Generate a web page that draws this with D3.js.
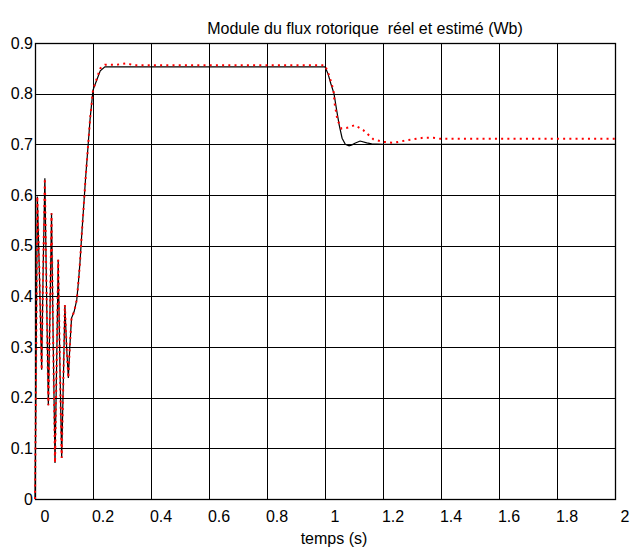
<!DOCTYPE html>
<html>
<head>
  <meta charset="utf-8">
  <title>Module du flux rotorique</title>
  <script src="https://d3js.org/d3.v7.min.js"></script>
  <style>
    body { margin: 0; background: #fff; }
    text { font-family: "Liberation Sans", Arial, sans-serif; fill: #000; }
    .tick-label { font-size: 16px; }
    .grid line { stroke: #000; stroke-width: 1; shape-rendering: crispEdges; }
  </style>
</head>
<body>
  <svg id="chart"></svg>
  <script>
    // tick values
    const xTicks = [0, 0.2, 0.4, 0.6, 0.8, 1, 1.2, 1.4, 1.6, 1.8, 2];
    const yTicks = [0, 0.1, 0.2, 0.3, 0.4, 0.5, 0.6, 0.7, 0.8, 0.9];

    // flux reel (trait noir)
    const tReel = [0, 0.003, 0.008, 0.015, 0.023, 0.028, 0.034, 0.040, 0.046, 0.052, 0.057, 0.063, 0.069, 0.075, 0.080, 0.086, 0.092, 0.098, 0.103, 0.109, 0.115, 0.120, 0.126, 0.135, 0.144, 0.150, 0.155, 0.161, 0.167, 0.174, 0.181, 0.190, 0.200, 0.213, 0.225, 0.241, 0.30, 0.5, 0.8, 1.0, 1.01, 1.02, 1.031, 1.04, 1.049, 1.059, 1.07, 1.083, 1.093, 1.103, 1.121, 1.144, 1.161, 1.2, 1.5, 2.0];
    const fluxReel = [0, 0.2, 0.597, 0.45, 0.255, 0.45, 0.633, 0.40, 0.185, 0.38, 0.564, 0.30, 0.071, 0.28, 0.472, 0.26, 0.081, 0.24, 0.383, 0.30, 0.239, 0.30, 0.357, 0.370, 0.393, 0.43, 0.466, 0.52, 0.57, 0.63, 0.682, 0.75, 0.807, 0.827, 0.845, 0.853, 0.853, 0.853, 0.853, 0.853, 0.840, 0.820, 0.800, 0.768, 0.738, 0.712, 0.700, 0.697, 0.699, 0.702, 0.7065, 0.703, 0.701, 0.700, 0.700, 0.700];

    // flux estime (pointille rouge)
    const tEstime = [0, 0.003, 0.008, 0.015, 0.023, 0.028, 0.034, 0.040, 0.046, 0.052, 0.057, 0.063, 0.069, 0.075, 0.080, 0.086, 0.092, 0.098, 0.103, 0.109, 0.115, 0.120, 0.126, 0.135, 0.144, 0.150, 0.155, 0.161, 0.167, 0.174, 0.181, 0.190, 0.200, 0.213, 0.225, 0.241, 0.28, 0.316, 0.34, 0.5, 0.8, 1.0, 1.015, 1.029, 1.034, 1.043, 1.057, 1.08, 1.103, 1.132, 1.167, 1.2, 1.236, 1.282, 1.339, 1.373, 1.397, 1.6, 2.0];
    const fluxEstime = [0, 0.2, 0.597, 0.45, 0.255, 0.45, 0.633, 0.40, 0.185, 0.38, 0.564, 0.30, 0.071, 0.28, 0.472, 0.26, 0.081, 0.24, 0.383, 0.30, 0.239, 0.30, 0.357, 0.370, 0.393, 0.43, 0.466, 0.52, 0.57, 0.63, 0.682, 0.75, 0.807, 0.83, 0.85, 0.857, 0.857, 0.860, 0.856, 0.856, 0.856, 0.856, 0.835, 0.807, 0.778, 0.748, 0.731, 0.733, 0.738, 0.728, 0.710, 0.705, 0.703, 0.708, 0.713, 0.713, 0.711, 0.711, 0.711];

    const W = 632, H = 550;
    const margin = { top: 43, right: 17, bottom: 51, left: 35 };

    const svg = d3.select("#chart")
      .attr("width", W)
      .attr("height", H);

    const x = d3.scaleLinear().domain([0, 2]).range([margin.left, W - margin.right]);
    const y = d3.scaleLinear().domain([0, 0.9]).range([H - margin.bottom, margin.top]);

    // grille
    const grid = svg.append("g").attr("class", "grid");
    grid.selectAll(".gx")
      .data(xTicks)
      .enter().append("line")
      .attr("x1", d => Math.round(x(d)) + 0.5)
      .attr("x2", d => Math.round(x(d)) + 0.5)
      .attr("y1", y(0))
      .attr("y2", y(0.9));
    grid.selectAll(".gy")
      .data(yTicks)
      .enter().append("line")
      .attr("x1", x(0))
      .attr("x2", x(2))
      .attr("y1", d => Math.round(y(d)) + 0.5)
      .attr("y2", d => Math.round(y(d)) + 0.5);

    // cadre
    svg.append("rect")
      .attr("x", Math.round(x(0)) + 0.5)
      .attr("y", Math.round(y(0.9)) + 0.5)
      .attr("width", Math.round(x(2)) - Math.round(x(0)))
      .attr("height", Math.round(y(0)) - Math.round(y(0.9)))
      .attr("fill", "none")
      .attr("stroke", "#000")
      .attr("stroke-width", 1.3);

    const line = d3.line()
      .x(d => x(d[0]))
      .y(d => y(d[1]));

    svg.append("path")
      .datum(d3.zip(tReel, fluxReel))
      .attr("d", line)
      .attr("fill", "none")
      .attr("stroke", "#000")
      .attr("stroke-width", 1.2);

    svg.append("path")
      .datum(d3.zip(tEstime, fluxEstime))
      .attr("d", line)
      .attr("fill", "none")
      .attr("stroke", "#ff0000")
      .attr("stroke-width", 2)
      .attr("stroke-dasharray", "2,4.2");

    // etiquettes des axes
    svg.selectAll(".xl")
      .data(xTicks)
      .enter().append("text")
      .attr("class", "tick-label")
      .attr("x", d => x(d) + 10)
      .attr("y", 522)
      .attr("text-anchor", "middle")
      .text(d => d3.format("~g")(d));

    svg.selectAll(".yl")
      .data(yTicks)
      .enter().append("text")
      .attr("class", "tick-label")
      .attr("x", x(0) - 2)
      .attr("y", d => y(d) + 5.5)
      .attr("text-anchor", "end")
      .text(d => d3.format("~g")(d));

    svg.append("text")
      .attr("class", "tick-label")
      .attr("x", 334)
      .attr("y", 544)
      .attr("text-anchor", "middle")
      .text("temps (s)");

    svg.append("text")
      .attr("class", "tick-label")
      .attr("x", 365)
      .attr("y", 34)
      .attr("text-anchor", "middle")
      .style("white-space", "pre")
      .text("Module du flux rotorique  réel et estimé (Wb)");
  </script>
</body>
</html>
